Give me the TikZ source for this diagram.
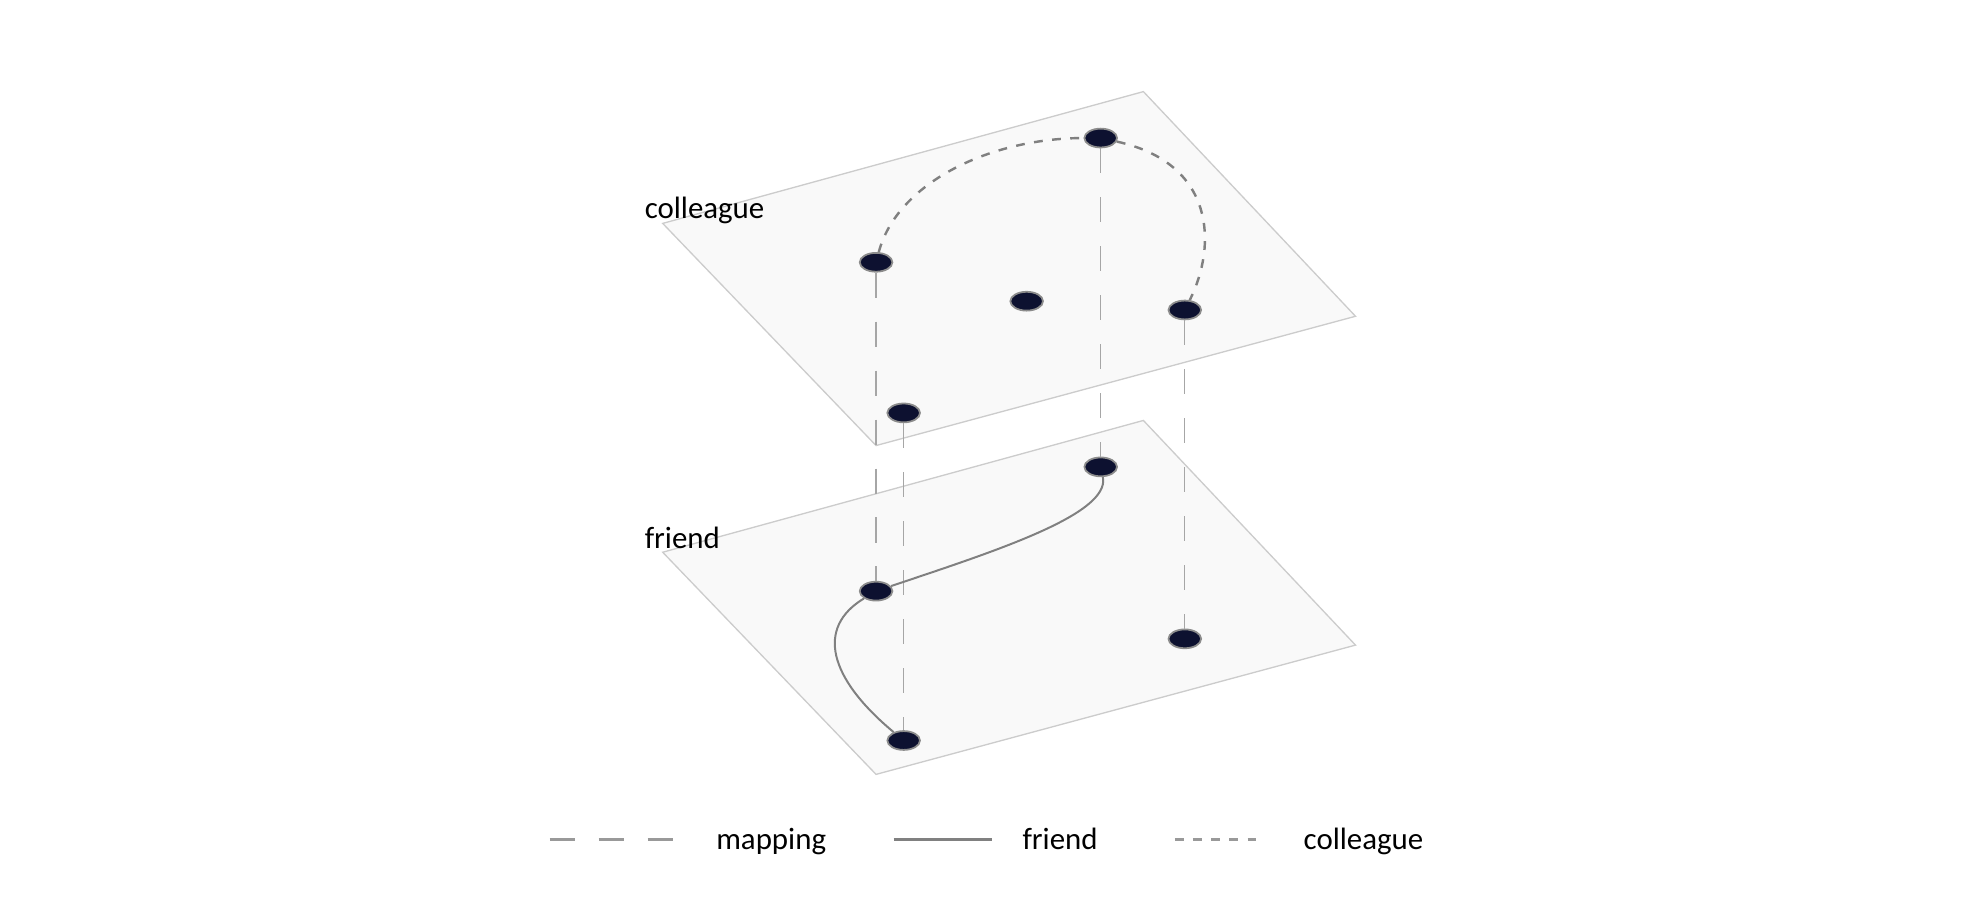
\documentclass[tikz,border=0pt]{standalone}
\usepackage{fontspec}
\setmainfont{Carlito}
\usepackage{xcolor}
\usepackage{tikz}
\usetikzlibrary{shapes.geometric}
\definecolor{navy}{HTML}{0D1130}

\begin{document}
\begin{tikzpicture}[x=0.01cm,y=-0.01cm,
	actor/.style={ellipse,draw=black!45,fill=navy,line width=0.4pt,minimum width=0.26cm,minimum height=0.15cm,inner sep=0pt},
	layer/.style={draw=black!20,fill=black!2.5,line width=0.3pt},
	mapping/.style={draw=black!35,line width=0.3pt,dash pattern=on 0.2cm off 0.19cm},
	friendship/.style={draw=black!50,line width=0.45pt},
	colleagues/.style={draw=black!50,line width=0.55pt,dash pattern=on 0.07cm off 0.075cm},
	tag/.style={font=\fontsize{7}{8}\selectfont,inner sep=0pt,anchor=base west},
	key/.style={line width=0.8pt}]
	\useasboundingbox (0,0) rectangle (1568,728);
	% the two layers
	\draw[layer] (911,73) -- (1080,252) -- (698,355) -- (528,178) -- cycle;
	\draw[layer] (911,335) -- (1080,514) -- (698,617) -- (528,440) -- cycle;
	\node[tag] (l_c) at (513,174) {colleague};
	\node[tag] (l_f) at (513,437) {friend};
	% colleague layer
	\node[actor] (c_1) at (698,209) {};
	\node[actor] (c_2) at (818,240) {};
	\node[actor] (c_3) at (944,247) {};
	\node[actor] (c_4) at (877,110) {};
	\node[actor] (c_5) at (720,329) {};
	% friend layer
	\node[actor] (f_1) at (877,372) {};
	\node[actor] (f_2) at (698,471) {};
	\node[actor] (f_3) at (944,509) {};
	\node[actor] (f_4) at (720,590) {};
	\path[mapping]
	(c_1) edge (f_2)
	(c_5) edge (f_4)
	(c_4) edge (f_1)
	(c_3) edge (f_3);
	\draw[colleagues] (c_1) .. controls (715,145) and (790,110) .. (c_4);
	\draw[colleagues] (c_4) .. controls (968,130) and (970,195) .. (c_3);
	\draw[friendship] (f_1) .. controls (885,410) and (790,440) .. (f_2);
	\draw[friendship] (f_2) .. controls (650,500) and (660,540) .. (f_4);
	% legend
	\coordinate (m_a) at (438,669);
	\coordinate (m_b) at (538,669);
	\coordinate (k_a) at (712,669);
	\coordinate (k_b) at (790,669);
	\coordinate (q_a) at (936,669);
	\coordinate (q_b) at (1007,669);
	\draw[mapping,key,draw=black!40] (m_a) -- (m_b);
	\draw[friendship,key] (k_a) -- (k_b);
	\draw[colleagues,key,draw=black!40] (q_a) -- (q_b);
	\node[tag] (t_m) at (570,677) {mapping};
	\node[tag] (t_f) at (814,677) {friend};
	\node[tag] (t_c) at (1038,677) {colleague};
\end{tikzpicture}
\end{document}
